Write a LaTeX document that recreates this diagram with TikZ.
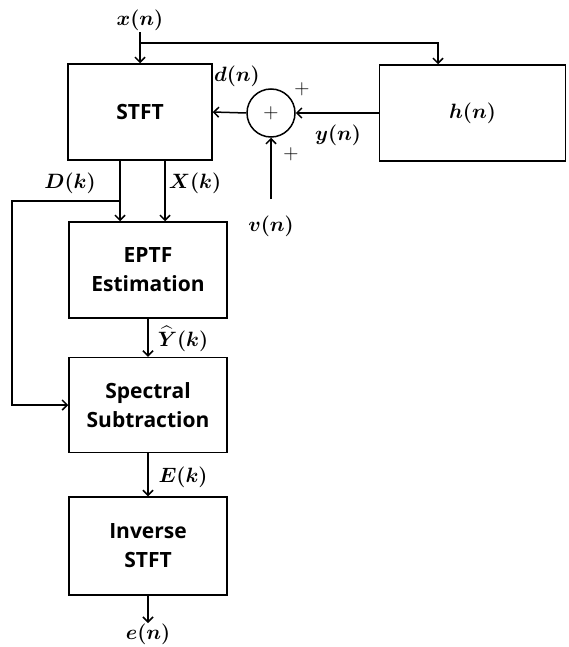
\documentclass[tikz,border=0pt]{standalone}
\usepackage{amsmath,amssymb,bm}
\usepackage{fontspec}
\setsansfont{Open Sans}
\usetikzlibrary{arrows.meta,positioning,calc}

\begin{document}
\begin{tikzpicture}[x=1pt,y=-1pt,line width=1.5pt,
 every node/.style={align=center},
 blk/.style={draw,inner sep=2pt,font=\sffamily\bfseries\fontsize{21}{29}\selectfont},
 sig/.style={inner sep=1pt,font=\fontsize{20}{24}\selectfont},
 pls/.style={inner sep=0pt,font=\rmfamily\fontsize{21}{24}\selectfont},
 arr/.style={-{Straight Barb[length=5pt,width=10pt]}}]
\useasboundingbox (0,0) rectangle (568,647);
% blocks
\node[blk,minimum width=144,minimum height=96] (stft) at (140,112) {STFT};
\node[draw,minimum width=186,minimum height=96,font=\fontsize{21}{24}\selectfont] (hbox) at (472.5,113) {$\bm{h(n)}$};
\node[draw,circle,minimum size=48,pls] (sum) at (271,113) {+};
\node[blk,minimum width=158,minimum height=96] (eptf) at (148,270) {EPTF\\Estimation};
\node[blk,minimum width=158,minimum height=95] (ss) at (148,405) {Spectral\\Subtraction};
\node[blk,minimum width=158,minimum height=98] (inv) at (148,546) {Inverse\\STFT};
% signals
\node[sig] (xin) at (140,20) {$\bm{x(n)}$};
\node[sig] (vin) at (271,226) {$\bm{v(n)}$};
\node[sig,anchor=north,inner sep=0pt] (eout) at (148,623) {$\bm{e(n)}$};
\node[sig] (dn) at (237,76) {$\bm{d(n)}$};
\node[sig] (yn) at (338,135) {$\bm{y(n)}$};
\node[sig] (Dk) at (70,183) {$\bm{D(k)}$};
\node[sig] (Xk) at (195,183) {$\bm{X(k)}$};
\node[sig,inner sep=0pt] (Yk) at (183,339) {$\bm{\widehat{Y}(k)}$};
\node[sig] (Ek) at (183,477) {$\bm{E(k)}$};
\node[pls] (p1) at (302,89) {+};
\node[pls] (p2) at (291,154) {+};
% points
\coordinate (xsplit) at (140,43);
\coordinate (vbot) at (271,199);
\coordinate (dk) at (120,201);
\coordinate (lft) at (12,201);
\coordinate (xk) at (165,201);
% connectors
\draw[arr] (xin.south)--(stft.north);
\draw[arr] (xsplit)-|($(hbox.north west)!0.316!(hbox.north east)$);
\draw[arr] (hbox.west)--(sum.east);
\draw[arr] (sum.west)--(stft.east);
\draw[arr] (vbot)--(sum.south);
\draw[arr] (stft.south-|dk)--(eptf.north-|dk);
\draw[arr] (stft.south-|xk)--(eptf.north-|xk);
\draw[arr] (dk)--(lft)|-(ss.west);
\draw[arr] (eptf.south)--(ss.north);
\draw[arr] (ss.south)--(inv.north);
\draw[arr] (inv.south)--(eout.north);
\end{tikzpicture}
\end{document}
